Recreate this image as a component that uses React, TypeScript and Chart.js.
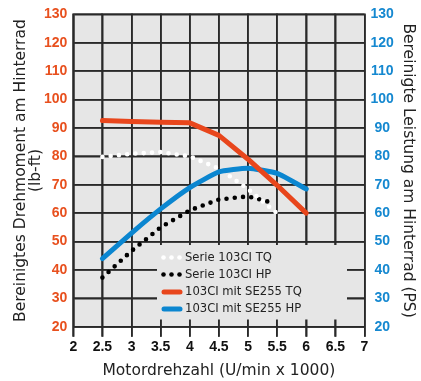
import React, { useEffect, useRef } from "react";
import { Chart, registerables } from "chart.js";

Chart.register(...registerables);

// ---- data ----
const serieTQ_rpm = [2.5, 3, 3.5, 4, 4.5, 5, 5.54];
const serieTQ = [79.8, 80.9, 81.5, 80.0, 75.7, 68.5, 59.2];
const serieHP_rpm = [2.5, 3, 3.5, 4, 4.5, 5, 5.43];
const serieHP = [37.3, 46.7, 55.0, 61.0, 64.8, 65.9, 63.6];
const se255_rpm = [2.5, 3, 3.5, 4, 4.5, 5, 5.5, 6];
const se255TQ = [92.6, 92.3, 92.0, 91.8, 87.4, 79.0, 69.8, 60.0];
const se255HP = [44.0, 53.0, 61.5, 69.0, 74.5, 75.8, 74.0, 68.5];
const seriesLabels = ["Serie 103CI TQ", "Serie 103CI HP", "103CI mit SE255 TQ", "103CI mit SE255 HP"];
const xTitle = "Motordrehzahl (U/min x 1000)";
const yLeftTitle = ["Bereinigtes Drehmoment am Hinterrad", "(lb-ft)"];
const yRightTitle = "Bereinigte Leistung am Hinterrad (PS)";
const xRange = [2, 7];
const yRange = [20, 130];

const ORANGE = "#e8461c";
const BLUE = "#0b86d0";
const ORANGE_TXT = "#e8501e";
const BLUE_TXT = "#1588d0";
const GRID = "#2a2a2a";
const PLOT_BG = "#e6e6e6";
const TICK_FONT = "'Liberation Sans', Arial, sans-serif";
const TEXT_FONT = "'DejaVu Sans', sans-serif";

const zip = (xs: number[], ys: number[]) => xs.map((x, i) => ({ x, y: ys[i] }));

// background painted behind everything already drawn
const bgPlugin = {
  id: "plotBg",
  afterDraw(chart: any) {
    const { ctx, chartArea: a } = chart;
    ctx.save();
    ctx.globalCompositeOperation = "destination-over";
    ctx.fillStyle = PLOT_BG;
    ctx.fillRect(a.left, a.top, a.right - a.left, a.bottom - a.top);
    ctx.fillStyle = "#ffffff";
    ctx.fillRect(0, 0, chart.width, chart.height);
    ctx.restore();
  },
};

// grid lines at the scales' own ticks
const gridPlugin = {
  id: "gridLines",
  beforeDatasetsDraw(chart: any) {
    const { ctx, chartArea: a, scales } = chart;
    const xs = scales.x;
    const ys = scales.y;
    ctx.save();
    ctx.strokeStyle = GRID;
    ctx.lineCap = "butt";
    ctx.lineWidth = 1.6;
    xs.ticks.forEach((t: any) => {
      const px = Math.round(xs.getPixelForValue(t.value)) + 0.0;
      ctx.beginPath();
      ctx.moveTo(px, a.top - 0.8);
      ctx.lineTo(px, a.bottom + 10);
      ctx.stroke();
    });
    ctx.lineWidth = 1.5;
    ys.ticks.forEach((t: any) => {
      const py = Math.round(ys.getPixelForValue(t.value));
      ctx.beginPath();
      ctx.moveTo(a.left, py);
      ctx.lineTo(a.right, py);
      ctx.stroke();
    });
    ctx.restore();
  },
};

const legendPlugin = {
  id: "boxLegend",
  beforeDatasetsDraw(chart: any) {
    const { ctx } = chart;
    const x0 = 157, y0 = 245, x1 = 347, y1 = 319.5;
    ctx.save();
    ctx.fillStyle = PLOT_BG;
    ctx.fillRect(x0, y0, x1 - x0, y1 - y0);
    const rows = [257.5, 274.5, 292, 309];
    const dsets = chart.data.datasets;
    rows.forEach((ry: number, i: number) => {
      const ds = dsets[i];
      if (ds.borderDash && ds.borderDash.length) {
        ctx.fillStyle = ds.borderColor;
        [163.5, 171.5, 179.5].forEach((cx) => {
          ctx.beginPath();
          ctx.arc(cx, ry, 2.3, 0, Math.PI * 2);
          ctx.fill();
        });
      } else {
        ctx.strokeStyle = ds.borderColor;
        ctx.lineWidth = 5;
        ctx.lineCap = "round";
        ctx.beginPath();
        ctx.moveTo(164, ry);
        ctx.lineTo(180, ry);
        ctx.stroke();
      }
      ctx.fillStyle = "#222222";
      ctx.font = "11.6px " + TEXT_FONT;
      ctx.textBaseline = "middle";
      ctx.textAlign = "left";
      ctx.fillText(ds.label, 185, ry);
    });
    ctx.restore();
  },
};

export default function App() {
  const ref = useRef<HTMLCanvasElement | null>(null);
  useEffect(() => {
    if (!ref.current) return;
    const chart = new Chart(ref.current, {
      type: "line",
      data: {
        datasets: [
          {
            label: seriesLabels[0],
            data: zip(serieTQ_rpm, serieTQ),
            yAxisID: "y",
            borderColor: "#ffffff",
            backgroundColor: "#ffffff",
            borderWidth: 4.6,
            borderDash: [0, 8.3],
            borderCapStyle: "round",
            pointRadius: 0,
            tension: 0,
            order: 2,
          },
          {
            label: seriesLabels[1],
            data: zip(serieHP_rpm, serieHP),
            yAxisID: "y1",
            borderColor: "#000000",
            backgroundColor: "#000000",
            borderWidth: 4.6,
            borderDash: [0, 8.3],
            borderCapStyle: "round",
            pointRadius: 0,
            tension: 0,
            order: 3,
          },
          {
            label: seriesLabels[2],
            data: zip(se255_rpm, se255TQ),
            yAxisID: "y",
            borderColor: ORANGE,
            backgroundColor: ORANGE,
            borderWidth: 5,
            borderCapStyle: "round",
            borderJoinStyle: "round",
            pointRadius: 0,
            tension: 0,
            order: 0,
          },
          {
            label: seriesLabels[3],
            data: zip(se255_rpm, se255HP),
            yAxisID: "y1",
            borderColor: BLUE,
            backgroundColor: BLUE,
            borderWidth: 5,
            borderCapStyle: "round",
            borderJoinStyle: "round",
            pointRadius: 0,
            tension: 0.15,
            order: 1,
          },
        ],
      },
      options: {
        animation: false,
        responsive: false,
        devicePixelRatio: 1,
        layout: { padding: { top: 14, left: 0, right: 0, bottom: 0 } },
        plugins: { legend: { display: false }, tooltip: { enabled: false } },
        scales: {
          x: {
            type: "linear",
            min: xRange[0],
            max: xRange[1],
            ticks: {
              stepSize: 0.5,
              callback: (v: any) => String(v),
              font: { family: TICK_FONT, size: 14, weight: "bold" },
              color: "#111111",
              padding: 2,
              maxRotation: 0,
              autoSkip: false,
            },
            grid: { display: true, color: GRID, lineWidth: 1.5, tickLength: 10, drawTicks: true },
            border: { display: true, color: GRID, width: 1.5 },
            title: {
              display: true,
              text: xTitle,
              font: { family: TEXT_FONT, size: 15.5 },
              color: "#222222",
              padding: { top: 0, bottom: 1 },
            },
            afterFit: (s: any) => {
              s.height = 54.3;
            },
          },
          y: {
            type: "linear",
            position: "left",
            min: yRange[0],
            max: yRange[1],
            ticks: {
              stepSize: 10,
              font: { family: TICK_FONT, size: 14, weight: "bold" },
              color: ORANGE_TXT,
              padding: 6,
            },
            grid: { display: true, color: GRID, lineWidth: 1.5, drawTicks: false },
            border: { display: true, color: GRID, width: 1.5 },
            title: {
              display: true,
              text: yLeftTitle,
              font: { family: TEXT_FONT, size: 15.5, lineHeight: 1.03 },
              color: "#222222",
              padding: { top: 12.5, bottom: 0 },
            },
            afterFit: (s: any) => {
              s.width = 73.3;
            },
          },
          y1: {
            type: "linear",
            position: "right",
            min: yRange[0],
            max: yRange[1],
            ticks: {
              stepSize: 10,
              font: { family: TICK_FONT, size: 14, weight: "bold" },
              color: BLUE_TXT,
              padding: 6,
              crossAlign: "center",
            },
            grid: { display: false, drawTicks: false },
            border: { display: false },
            title: {
              display: true,
              text: yRightTitle,
              font: { family: TEXT_FONT, size: 15.5, lineHeight: 1.03 },
              color: "#222222",
              padding: { top: 4.5, bottom: 0 },
            },
            afterFit: (s: any) => {
              s.width = 56.5;
            },
          },
        },
      },
      plugins: [bgPlugin, gridPlugin, legendPlugin],
    } as any);
    return () => chart.destroy();
  }, []);
  return (
    <div style={{ position: "absolute", left: 0, top: 0, width: 421, height: 381 }}>
      <canvas ref={ref} width={421} height={381} style={{ display: "block" }} />
    </div>
  );
}
